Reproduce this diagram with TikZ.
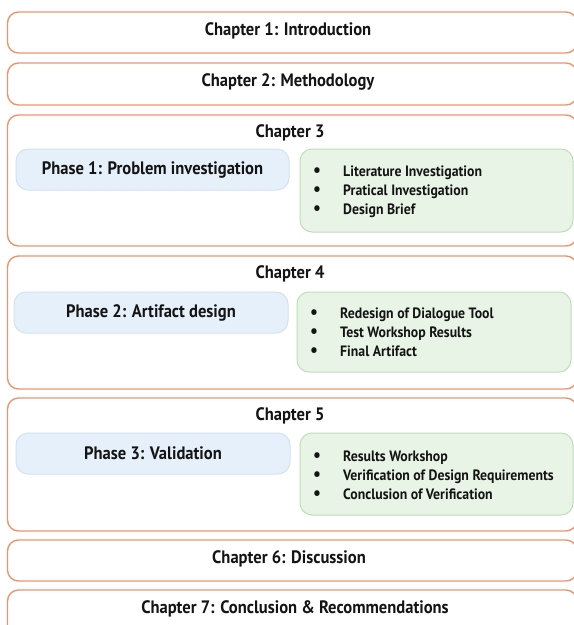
\documentclass[tikz,border=0pt]{standalone}
\usepackage{fontspec}
\setmainfont{PT Sans}[FakeStretch=0.92]
\definecolor{chapline}{RGB}{236,150,110}
\definecolor{phasefill}{RGB}{230,240,250}
\definecolor{phaseline}{RGB}{212,226,240}
\definecolor{listfill}{RGB}{232,245,230}
\definecolor{listline}{RGB}{190,222,186}
\definecolor{ink}{RGB}{20,20,20}
\tikzset{
  chapbox/.style={draw=chapline, line width=1.4pt, rounded corners=11pt, fill=white},
  chaptitle/.style={font=\bfseries\fontsize{18}{21}\selectfont, text=ink, inner sep=0pt},
  phasebox/.style={draw=phaseline, line width=1pt, fill=phasefill, rounded corners=12pt,
    font=\bfseries\fontsize{18}{21}\selectfont, text=ink},
  listbox/.style={draw=listline, line width=1pt, fill=listfill, rounded corners=12pt},
  listtext/.style={font=\bfseries\fontsize{15}{19}\selectfont, text=ink, align=left, inner sep=0pt, anchor=west},
}
\newcommand{\itemrow}[1]{\makebox[30pt][l]{{\fontsize{19}{19}\selectfont\textbullet}}#1}
\begin{document}
\begin{tikzpicture}[x=1pt, y=-1pt]
\clip (0,0) rectangle (574,625);
\fill[white] (0,0) rectangle (574,625);

% chapters 1 and 2
\draw[chapbox] (7.5,12) rectangle (577,53);
\node[chaptitle] (t1) at (288,31) {Chapter 1: Introduction};
\draw[chapbox] (7.5,63) rectangle (577,105);
\node[chaptitle] (t2) at (288,82) {Chapter 2: Methodology};

% chapter 3
\draw[chapbox] (7.5,115) rectangle (577,246);
\node[chaptitle] (t3) at (290,133) {Chapter 3};
\draw[phasebox] (16,149) rectangle (289,190) node[midway] (p1) {Phase 1: Problem investigation};
\draw[listbox] (300,149) rectangle (573,232);
\node[listtext] (l1) at (313,192) {\itemrow{Literature Investigation}\\\itemrow{Pratical Investigation}\\\itemrow{Design Brief}};

% chapter 4
\draw[chapbox] (7.5,256) rectangle (577,389);
\node[chaptitle] (t4) at (290,274) {Chapter 4};
\draw[phasebox] (14,292) rectangle (288,333) node[midway] (p2) {Phase 2: Artifact design};
\draw[listbox] (297,292) rectangle (571,372);
\node[listtext] (l2) at (310,332) {\itemrow{Redesign of Dialogue Tool}\\\itemrow{Test Workshop Results}\\\itemrow{Final Artifact}};

% chapter 5
\draw[chapbox] (7.5,398) rectangle (577,531);
\node[chaptitle] (t5) at (290,416) {Chapter 5};
\draw[phasebox] (16,433) rectangle (290,474) node[midway] (p3) {Phase 3: Validation};
\draw[listbox] (300,433) rectangle (573,515);
\node[listtext] (l3) at (313,475) {\itemrow{Results Workshop}\\\itemrow{Verification of Design Requirements}\\\itemrow{Conclusion of Verification}};

% chapters 6 and 7
\draw[chapbox] (7.5,540) rectangle (577,581);
\node[chaptitle] (t6) at (289,559) {Chapter 6: Discussion};
\draw[chapbox] (7.5,590) rectangle (577,650);
\node[chaptitle] (t7) at (295,609) {Chapter 7: Conclusion \& Recommendations};
\end{tikzpicture}
\end{document}
